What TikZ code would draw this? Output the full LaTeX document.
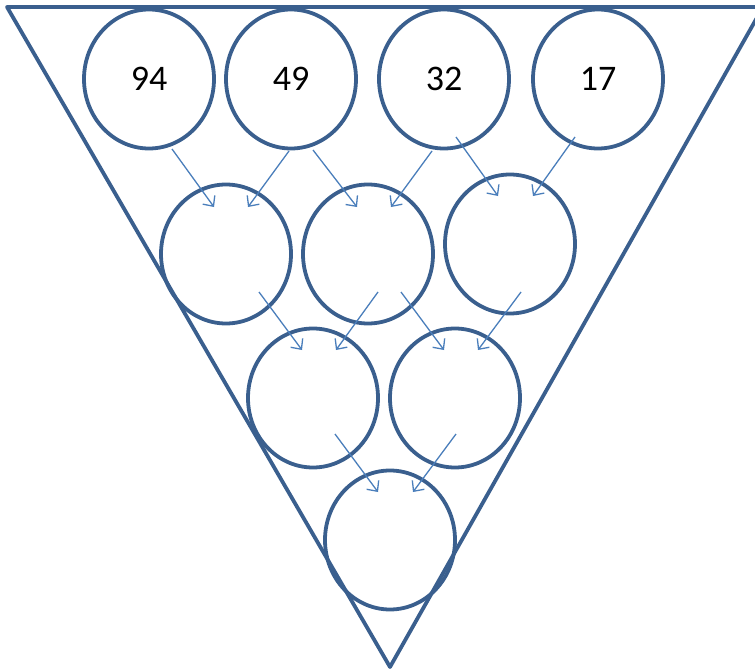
\documentclass[tikz,border=0pt]{standalone}
\usepackage{fontspec}
\setmainfont{Carlito}
\usepackage{tikz}
\usetikzlibrary{shapes.geometric,arrows.meta,calc}
\definecolor{ringblue}{RGB}{58,95,142}
\definecolor{arrowblue}{RGB}{74,126,187}

\begin{document}
\begin{tikzpicture}[x=1pt,y=-1pt,
    ball/.style={ellipse, draw=ringblue, line width=3.8pt, minimum width=130pt,
                 minimum height=139pt, inner sep=0pt, font=\fontsize{36}{42}\selectfont},
    flow/.style={draw=arrowblue, line width=1.3pt, -{Straight Barb[length=8pt,width=15pt]}}]
                \useasboundingbox (0,0) rectangle (755,669);
                % outer triangle
                \coordinate (t1) at (7,7);
                \coordinate (t2) at (763,7);
                \coordinate (t3) at (390,667);
                \draw[ringblue, line width=3.8pt, line join=round] (t1) -- (t2) -- (t3) -- cycle;
                % first row
                \node[ball] (A1) at (149,79) {94};
                \node[ball] (A2) at (291,79) {49};
                \node[ball] (A3) at (444,79) {32};
                \node[ball] (A4) at (598,79) {17};
                % second row
                \node[ball] (B1) at (226,254) {};
                \node[ball] (B2) at (368,254) {};
                \node[ball] (B3) at (510,244) {};
                % third row
                \node[ball] (C1) at (313,398) {};
                \node[ball] (C2) at (455,398) {};
                % last one
                \node[ball] (D1) at (390,540) {};
                % arrows
                \draw[flow] ($(A1)+(23,70)$) -- ($(B1)+(-12,-47)$);
                \draw[flow] ($(A2)+(-2,72)$) -- ($(B1)+(22,-47)$);
                \draw[flow] ($(A2)+(22,71)$) -- ($(B2)+(-11,-47)$);
                \draw[flow] ($(A3)+(-12,72)$) -- ($(B2)+(23,-47)$);
                \draw[flow] ($(A3)+(12,58)$) -- ($(B3)+(-12,-48)$);
                \draw[flow] ($(A4)+(-23,58)$) -- ($(B3)+(23,-48)$);
                \draw[flow] ($(B1)+(33,38)$) -- ($(C1)+(-11,-48)$);
                \draw[flow] ($(B2)+(10,38)$) -- ($(C1)+(23,-48)$);
                \draw[flow] ($(B2)+(33,38)$) -- ($(C2)+(-11,-48)$);
                \draw[flow] ($(B3)+(11,48)$) -- ($(C2)+(23,-48)$);
                \draw[flow] ($(C1)+(22,36)$) -- ($(D1)+(-12,-48)$);
                \draw[flow] ($(C2)+(1,36)$) -- ($(D1)+(23,-48)$);
            \end{tikzpicture}
\end{document}
